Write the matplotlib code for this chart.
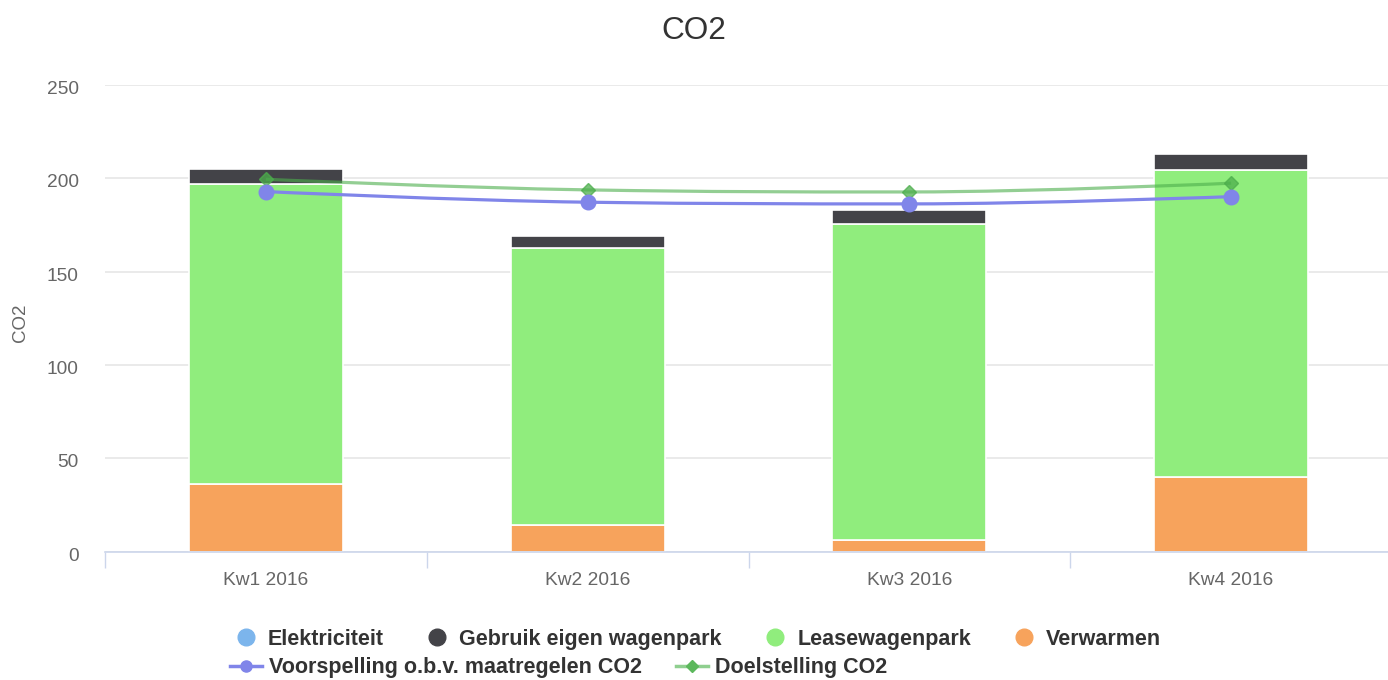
import matplotlib
matplotlib.use('Agg')
import matplotlib.pyplot as plt
from matplotlib.path import Path
from matplotlib.patches import PathPatch
from matplotlib.lines import Line2D
from matplotlib.transforms import ScaledTranslation
import numpy as np

plt.rcParams['font.family'] = ['Liberation Sans', 'DejaVu Sans']

# data
categories = ['Kw1 2016', 'Kw2 2016', 'Kw3 2016', 'Kw4 2016']
elektriciteit = [0, 0, 0, 0]
gebruik_eigen = [8.1, 6.2, 7.4, 8.4]
leasewagenpark = [160.4, 148.8, 169.2, 164.4]
verwarmen = [36.4, 14.1, 6.3, 40.1]
voorspelling = [192.9, 187.2, 186.3, 190.2]
doelstelling = [199.5, 193.8, 192.7, 197.4]

# highcharts default palette
c_elek = '#7cb5ec'
c_gebr = '#434348'
c_lease = '#90ed7d'
c_verw = '#f7a35c'
c_voor = '#8085e9'
c_doel = '#4cae4c'

W, H = 1388, 680
fig = plt.figure(figsize=(W / 100, H / 100), dpi=100)
left, right, top, bottom = 105, 1392, 85, 551.6
ax = fig.add_axes([left / W, 1 - bottom / H, (right - left) / W, (bottom - top) / H])

x = np.arange(len(categories))
bw = 0.478

# stacked columns, first series on top like highcharts
stack = np.zeros(len(categories))
for vals, col in [(verwarmen, c_verw), (leasewagenpark, c_lease),
                  (gebruik_eigen, c_gebr), (elektriciteit, c_elek)]:
    v = np.array(vals, dtype=float)
    if v.sum() > 0:
        ax.bar(x, v, bw, bottom=stack, color=col, edgecolor='white', linewidth=1.2, zorder=2)
    stack += v


def spline(xs, ys, smoothing=1.5):
    # same control points highcharts uses for its spline series
    n = len(xs)
    denom = smoothing + 1
    lc = [(xs[i], ys[i]) for i in range(n)]
    rc = [(xs[i], ys[i]) for i in range(n)]
    for i in range(1, n - 1):
        px, py = xs[i - 1], ys[i - 1]
        cx, cy = xs[i], ys[i]
        nx, ny = xs[i + 1], ys[i + 1]
        lx = (smoothing * cx + px) / denom
        ly = (smoothing * cy + py) / denom
        rx = (smoothing * cx + nx) / denom
        ry = (smoothing * cy + ny) / denom
        if rx != lx:
            corr = ((ry - ly) * (rx - cx)) / (rx - lx) + cy - ry
            ly += corr
            ry += corr
        if ly > max(py, cy):
            ly = max(py, cy); ry = 2 * cy - ly
        elif ly < min(py, cy):
            ly = min(py, cy); ry = 2 * cy - ly
        if ry > max(ny, cy):
            ry = max(ny, cy); ly = 2 * cy - ry
        elif ry < min(ny, cy):
            ry = min(ny, cy); ly = 2 * cy - ry
        lc[i] = (lx, ly)
        rc[i] = (rx, ry)
    verts = [(xs[0], ys[0])]
    codes = [Path.MOVETO]
    for i in range(1, n):
        verts += [rc[i - 1], lc[i], (xs[i], ys[i])]
        codes += [Path.CURVE4] * 3
    return Path(verts, codes)


ax.add_patch(PathPatch(spline(x, doelstelling), fill=False, edgecolor=c_doel,
                       lw=2.3, alpha=0.6, zorder=3))
ax.plot(x, doelstelling, linestyle='none', marker='D', markersize=7,
        color=c_doel, alpha=0.75, zorder=4)
ax.add_patch(PathPatch(spline(x, voorspelling), fill=False, edgecolor=c_voor,
                       lw=2.3, zorder=5))
ax.plot(x, voorspelling, linestyle='none', marker='o', markersize=10.5,
        color=c_voor, zorder=6)

ax.set_xlim(-0.5, 3.5)
ax.set_ylim(0, 250)
ax.set_yticks([0, 50, 100, 150, 200, 250])
ax.yaxis.grid(True, color='#e6e6e6', linewidth=1.2, zorder=0)
ax.set_axisbelow(True)
ax.tick_params(axis='y', length=0, pad=19, labelsize=13.8, labelcolor='#666666')
# highcharts puts the y labels a little below their grid lines
for lab in ax.get_yticklabels():
    lab.set_transform(lab.get_transform() + ScaledTranslation(0, -2.5 / 100, fig.dpi_scale_trans))

ax.set_xticks(np.arange(-0.5, 4, 1))
ax.set_xticklabels([])
ax.tick_params(axis='x', which='major', length=11.5, width=1, color='#ccd6eb')
ax.set_xticks(x, minor=True)
ax.set_xticklabels(categories, minor=True)
ax.tick_params(axis='x', which='minor', length=0, pad=14.5, labelsize=13.8, labelcolor='#666666')

for s in ['top', 'right', 'left']:
    ax.spines[s].set_visible(False)
ax.spines['bottom'].set_color('#ccd6eb')
ax.spines['bottom'].set_linewidth(1.2)

fig.text(0.5, 1 - 31 / H, 'CO2', ha='center', va='center', fontsize=22.7, color='#333333')
fig.text(20 / W, 1 - 323 / H, 'CO2', ha='center', va='center', rotation=90,
         fontsize=13.5, color='#666666')

# legend, two rows like the highcharts flow layout
row1 = [
    Line2D([], [], linestyle='none', marker='o', markersize=12, color=c_elek, label='Elektriciteit'),
    Line2D([], [], linestyle='none', marker='o', markersize=12, color=c_gebr, label='Gebruik eigen wagenpark'),
    Line2D([], [], linestyle='none', marker='o', markersize=12, color=c_lease, label='Leasewagenpark'),
    Line2D([], [], linestyle='none', marker='o', markersize=12, color=c_verw, label='Verwarmen'),
]
leg1 = fig.legend(handles=row1, loc='center left', bbox_to_anchor=(235 / W, 1 - 639.5 / H),
                  ncol=4, frameon=False, borderpad=0, borderaxespad=0,
                  handlelength=0.98, handletextpad=0.55, columnspacing=1.97,
                  prop={'weight': 'bold', 'size': 15.5})
for t in leg1.get_texts():
    t.set_color('#333333')

row2 = [
    Line2D([], [], color=c_voor, lw=2.5, marker='o', markersize=8, label='Voorspelling o.b.v. maatregelen CO2'),
    Line2D([], [], color='#8fcf8f', lw=2.5, marker='D', markersize=6,
           markerfacecolor='#5cb85c', markeredgecolor='#5cb85c', label='Doelstelling CO2'),
]
leg2 = fig.legend(handles=row2, loc='center left', bbox_to_anchor=(230 / W, 1 - 668 / H),
                  ncol=2, frameon=False, borderpad=0, borderaxespad=0,
                  handlelength=1.5, handletextpad=0.3, columnspacing=1.6,
                  prop={'weight': 'bold', 'size': 15.5})
for t in leg2.get_texts():
    t.set_color('#333333')

fig.savefig('out.png', dpi=100)
